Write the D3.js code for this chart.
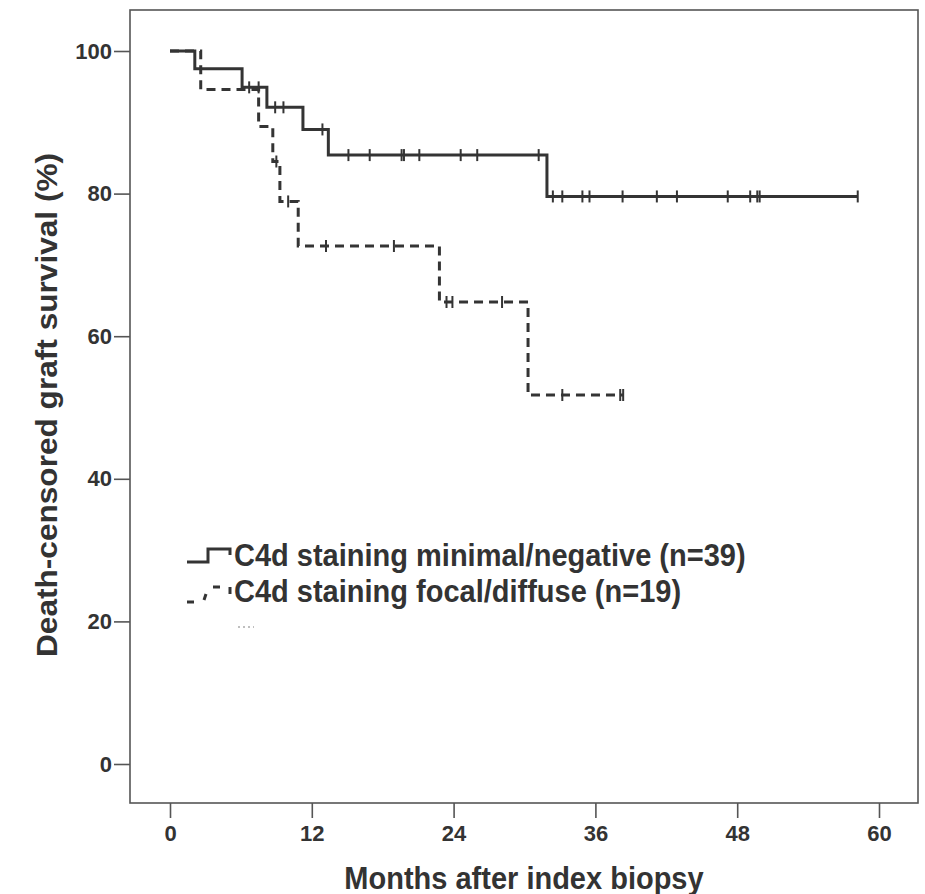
<!DOCTYPE html>
<html>
<head>
<meta charset="utf-8">
<script src="https://cdn.jsdelivr.net/npm/d3@7"></script>
<style>
  body { margin: 0; background: #fff; }
  svg text { font-family: "Liberation Sans", Arial, sans-serif; font-weight: bold; fill: #333; }
</style>
</head>
<body>
<div id="chart"></div>
<script>
// Kaplan-Meier curves (months, % survival)
const negEventMonths = [0, 2.1, 6.1, 8.2, 11.25, 13.4, 31.9];
const negSurvival = [100, 97.5, 94.9, 92.1, 89.0, 85.4, 79.6];
const negLastMonth = 58.2;
const negCensorMonths = [6.7, 7.5, 8.9, 9.6, 12.9, 15.1, 16.9, 19.6, 19.8, 21.1, 24.6, 26.0, 31.2,
  32.4, 33.2, 34.9, 35.5, 38.3, 41.2, 42.9, 47.2, 49.1, 49.7, 49.9, 58.2];

const posEventMonths = [0, 2.6, 7.5, 8.7, 9.3, 10.85, 22.8, 30.3];
const posSurvival = [100, 94.6, 89.4, 84.5, 78.9, 72.65, 64.8, 51.75];
const posLastMonth = 38.4;
const posCensorMonths = [9.0, 10.0, 13.2, 18.95, 23.4, 23.9, 28.1, 33.2, 38.1, 38.35];

const xTicks = [0, 12, 24, 36, 48, 60];
const yTicks = [0, 20, 40, 60, 80, 100];
const legendLabels = ["C4d staining minimal/negative (n=39)", "C4d staining focal/diffuse (n=19)"];

const width = 925, height = 894;
const frame = {left: 130, right: 918, top: 10, bottom: 803};
const ink = "#343434";
const stretch = 1.09; // figure text is a bit taller than wide

const svg = d3.select("#chart").append("svg")
  .attr("width", width)
  .attr("height", height);

const x = d3.scaleLinear().domain([0, 60]).range([170, 879]);
const y = d3.scaleLinear().domain([0, 100]).range([764, 51]);

// plot frame
svg.append("rect")
  .attr("x", frame.left)
  .attr("y", frame.top)
  .attr("width", frame.right - frame.left)
  .attr("height", frame.bottom - frame.top)
  .attr("fill", "none")
  .attr("stroke", "#555")
  .attr("stroke-width", 1.6);

// axes
const yAxisG = svg.append("g")
  .attr("transform", `translate(${frame.left},0)`)
  .call(d3.axisLeft(y).tickValues(yTicks).tickSize(16).tickPadding(2));
const xAxisG = svg.append("g")
  .attr("transform", `translate(0,${frame.bottom})`)
  .call(d3.axisBottom(x).tickValues(xTicks).tickSize(15).tickPadding(7));

[yAxisG, xAxisG].forEach(g => {
  g.select(".domain").remove();
  g.selectAll(".tick line").attr("stroke", "#555").attr("stroke-width", 1.6);
  g.selectAll(".tick text").style("font-size", "22px").attr("fill", "#333");
});

// axis titles
svg.append("text")
  .attr("transform", `translate(524,889) scale(1,${stretch})`)
  .attr("text-anchor", "middle")
  .style("font-size", "29px")
  .text("Months after index biopsy");

svg.append("text")
  .attr("transform", `translate(57,405) rotate(-90) scale(${stretch},1)`)
  .attr("text-anchor", "middle")
  .style("font-size", "29px")
  .text("Death-censored graft survival (%)");

// step curves
function stepPoints(times, surv, last) {
  const pts = times.map((t, i) => ({t: t, s: surv[i]}));
  pts.push({t: last, s: surv[surv.length - 1]});
  return pts;
}
function levelAt(times, surv, t) {
  let s = surv[0];
  times.forEach((tt, i) => { if (tt <= t) s = surv[i]; });
  return s;
}

const stepLine = d3.line()
  .x(d => x(d.t))
  .y(d => y(d.s))
  .curve(d3.curveStepAfter);

const series = [
  {times: negEventMonths, surv: negSurvival, last: negLastMonth, censor: negCensorMonths, dash: null},
  {times: posEventMonths, surv: posSurvival, last: posLastMonth, censor: posCensorMonths, dash: "9,6"}
];

series.forEach(s => {
  svg.append("path")
    .attr("d", stepLine(stepPoints(s.times, s.surv, s.last)))
    .attr("fill", "none")
    .attr("stroke", ink)
    .attr("stroke-width", 3)
    .attr("stroke-dasharray", s.dash);

  svg.append("g").selectAll("line")
    .data(s.censor)
    .join("line")
    .attr("x1", d => x(d))
    .attr("x2", d => x(d))
    .attr("y1", d => y(levelAt(s.times, s.surv, d)) - 6)
    .attr("y2", d => y(levelAt(s.times, s.surv, d)) + 6)
    .attr("stroke", ink)
    .attr("stroke-width", 2);
});

// legend
const legend = svg.append("g").attr("transform", "translate(187,0)");
legend.append("path")
  .attr("d", "M0,562 H21 V549 H43 V555")
  .attr("fill", "none")
  .attr("stroke", ink)
  .attr("stroke-width", 3);
legend.append("path")
  .attr("d", "M0,602 H7 M17,600 L19,594 M26,587 H33 M43,587 V594")
  .attr("fill", "none")
  .attr("stroke", ink)
  .attr("stroke-width", 3);
legend.append("path")
  .attr("d", "M51,627 H67")
  .attr("stroke", "#aaa")
  .attr("stroke-width", 1.5)
  .attr("stroke-dasharray", "2,3");

legend.selectAll("text.leg")
  .data(legendLabels)
  .join("text")
  .attr("class", "leg")
  .attr("transform", (d, i) => `translate(47,${566 + i * 36}) scale(1,${stretch})`)
  .style("font-size", "29px")
  .text(d => d);
</script>
</body>
</html>
